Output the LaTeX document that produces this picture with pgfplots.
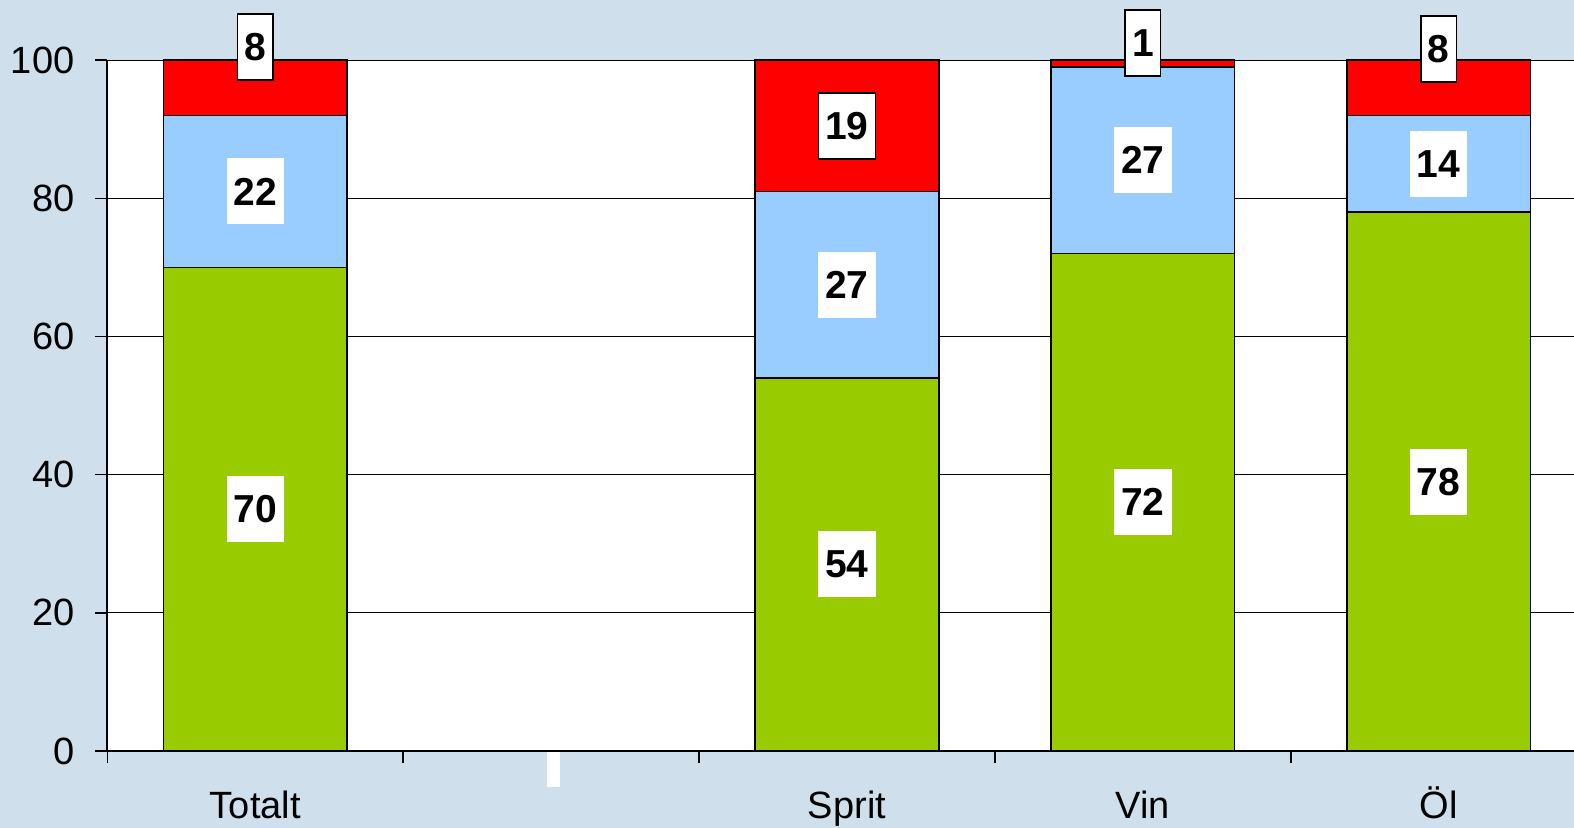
\documentclass[border=0pt]{standalone}
\usepackage{pgfplots}
\pgfplotsset{compat=1.18}
\usepackage{fontspec}
\setmainfont{Liberation Sans}
\definecolor{bg}{HTML}{CFDFEC}
\definecolor{cgreen}{HTML}{99CC00}
\definecolor{cblue}{HTML}{99CCFF}
\definecolor{cred}{HTML}{FF0000}
\begin{document}
\begin{tikzpicture}
\fill[bg] (0,0) rectangle (787pt,414pt);
\useasboundingbox (0,0) rectangle (787pt,414pt);
\begin{axis}[
  at={(53.7pt,38.5pt)}, anchor=south west,
  scale only axis, width=739.6pt, height=345.4pt,
  xmin=-0.5, xmax=4.5, ymin=0, ymax=100,
  ybar stacked, bar width=91.8pt,
  ytick={0,20,...,100},
  ymajorgrids, grid style={black, line width=0.5pt},
  xtick={-0.5,0.5,...,4.5}, xticklabels={},
  extra x ticks={0,2,3,4}, extra x tick labels={Totalt,Sprit,Vin,Öl},
  extra x tick style={major tick length=0pt, grid=none},
  tick style={black, line width=0.75pt},
  tick align=outside,
  major tick length=6pt,
  axis x line*=bottom, axis y line*=left,
  axis line style={black, line width=1pt},
  axis background/.style={fill=white},
  tick label style={font=\fontsize{19}{22}\selectfont},
  yticklabel style={xshift=-7pt},
  xticklabel style={text height=13pt, text depth=4pt, yshift=-17pt},
  /pgf/number format/assume math mode=true,
  clip=false,
]
\addplot[fill=cgreen, draw=black, line width=0.75pt] coordinates {(0,70) (2,54) (3,72) (4,78)};
\addplot[fill=cblue, draw=black, line width=0.75pt] coordinates {(0,22) (2,27) (3,27) (4,14)};
\addplot[fill=cred, draw=black, line width=0.75pt] coordinates {(0,8) (2,19) (3,1) (4,8)};
\coordinate (a1) at (axis cs:0,35);
\coordinate (a2) at (axis cs:0,81);
\coordinate (a3) at (axis cs:0,101.9);
\coordinate (b1) at (axis cs:2,27);
\coordinate (b2) at (axis cs:2,67.5);
\coordinate (b3) at (axis cs:2,90.5);
\coordinate (c1) at (axis cs:3,36);
\coordinate (c2) at (axis cs:3,85.5);
\coordinate (c3) at (axis cs:3,102.5);
\coordinate (d1) at (axis cs:4,39);
\coordinate (d2) at (axis cs:4,85);
\coordinate (d3) at (axis cs:4,101.6);
\end{axis}
\tikzset{lbl/.style={fill=white, font=\bfseries\fontsize{19.5}{23}\selectfont, inner xsep=3.5pt, minimum height=33pt},
         lblb/.style={lbl, draw=black, line width=0.75pt}}
\node[lbl] at (a1) {70};
\node[lbl] at (a2) {22};
\node[lblb] at (a3) {8};
\node[lbl] at (b1) {54};
\node[lbl] at (b2) {27};
\node[lblb] at (b3) {19};
\node[lbl] at (c1) {72};
\node[lbl] at (c2) {27};
\node[lblb] at (c3) {1};
\node[lbl] at (d1) {78};
\node[lbl] at (d2) {14};
\node[lblb] at (d3) {8};
\fill[white] (273.5pt,20.5pt) rectangle (280pt,38pt);
\end{tikzpicture}
\end{document}
